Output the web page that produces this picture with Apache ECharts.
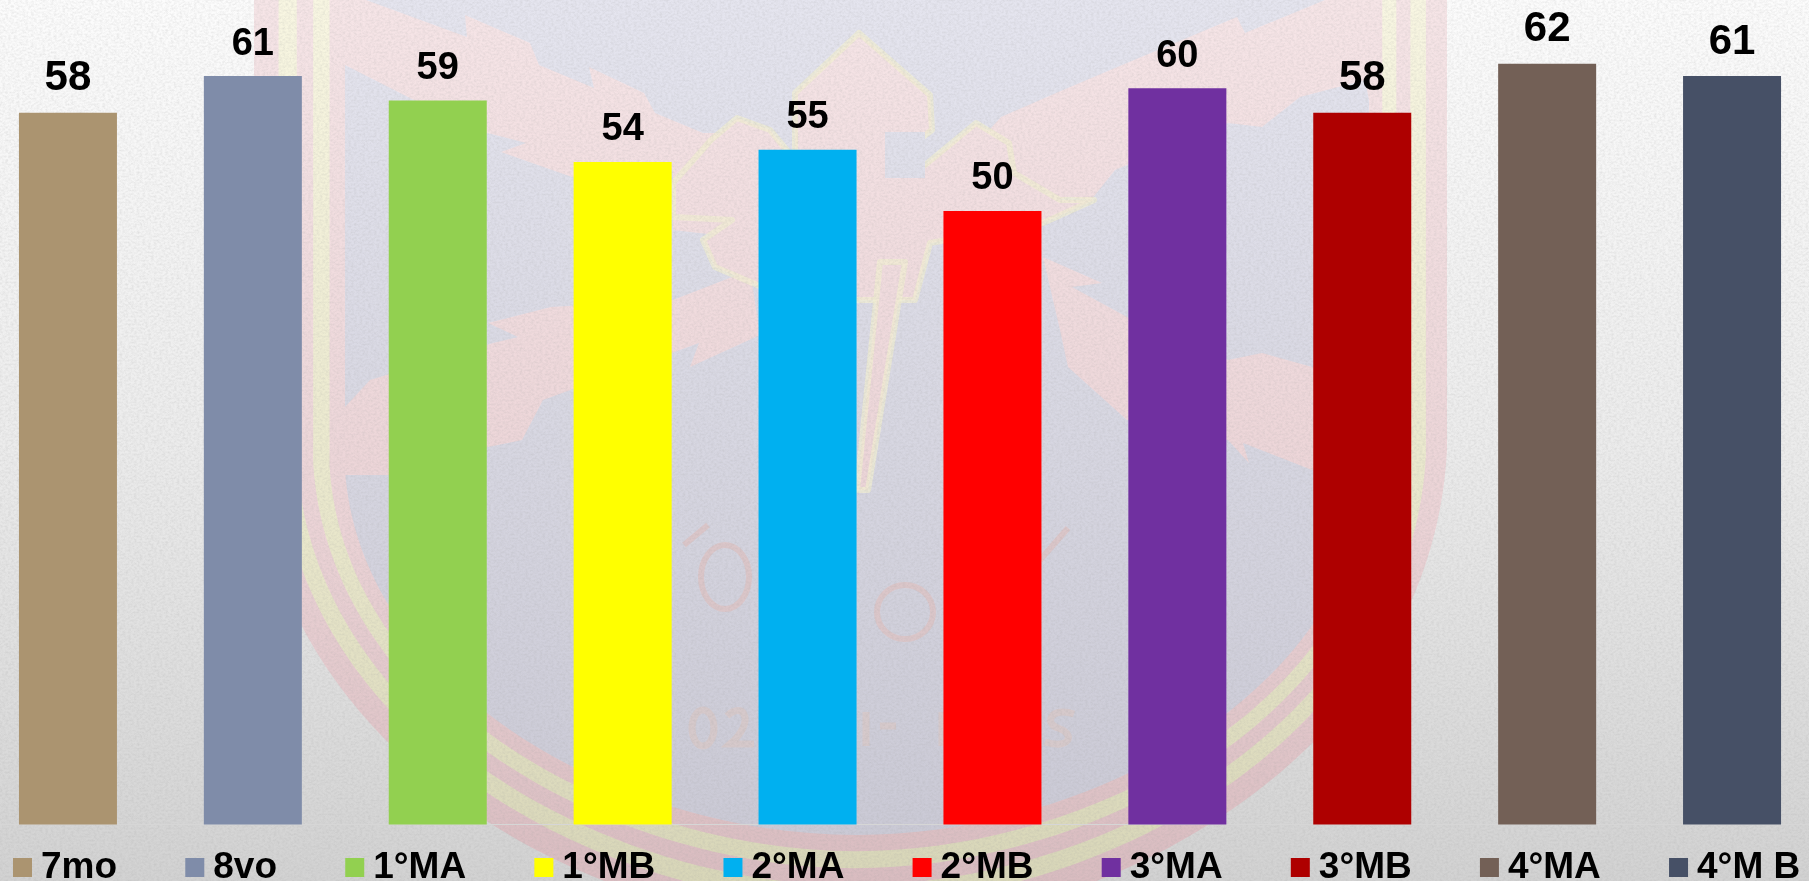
<!DOCTYPE html>
<html>
<head>
<meta charset="utf-8">
<style>
html,body{margin:0;padding:0;width:1809px;height:881px;overflow:hidden;background:#e8e8e8}
#bg,#chart{position:absolute;left:0;top:0;width:1809px;height:881px}
</style>
<script src="https://cdn.jsdelivr.net/npm/echarts@6/dist/echarts.min.js"></script>
</head>
<body>
<svg id="bg" xmlns="http://www.w3.org/2000/svg" viewBox="0 0 1809 881">
  <defs>
    <linearGradient id="gPaper" x1="0" y1="0" x2="0" y2="1"><stop offset="0" stop-color="#fcfcfc"/><stop offset=".5" stop-color="#ececec"/><stop offset="1" stop-color="#d2d2d2"/></linearGradient>
    <linearGradient id="gPink" gradientUnits="userSpaceOnUse" x1="0" y1="0" x2="0" y2="881"><stop offset="0" stop-color="#f6e5e7"/><stop offset=".6" stop-color="#ebd3d6"/><stop offset="1" stop-color="#d9bcc0"/></linearGradient>
    <linearGradient id="gYellow" gradientUnits="userSpaceOnUse" x1="0" y1="0" x2="0" y2="881"><stop offset="0" stop-color="#f8f6e2"/><stop offset=".6" stop-color="#e9e7cb"/><stop offset="1" stop-color="#d8d6b8"/></linearGradient>
    <linearGradient id="gBlue" gradientUnits="userSpaceOnUse" x1="0" y1="0" x2="0" y2="881"><stop offset="0" stop-color="#e5e5ef"/><stop offset="1" stop-color="#c9c8d4"/></linearGradient>
    <filter id="grain" x="0" y="0" width="100%" height="100%">
      <feTurbulence type="fractalNoise" baseFrequency=".35 .5" numOctaves="3" seed="4"/>
      <feColorMatrix type="matrix" values="0 0 0 0 0.35  0 0 0 0 0.35  0 0 0 0 0.35  1.4 0 0 0 -0.5"/>
    </filter>
  </defs>
  <rect width="1809" height="881" fill="url(#gPaper)"/>
  <g id="shield"></g>
  <g fill="url(#gPink)" stroke="none">
    <path d="M366 0L467 37L465 15L530 43L539 65L594 88L589 67L644 93L655 113L703 133L716 133L760 175L760 240L673 230L673 170L572 177L501 152L526 143L476 130L408 97L345 65L345 0Z"/>
    <path d="M1369 0L1325 0L1245 33L1237 17L1115 68L1056 93L1001 117L980 140L960 230L1068 197L1091 200L1115 170L1228 123L1262 127L1300 97L1365 80L1369 100Z"/>
    <path d="M345 407L370 380L493 343L518 337L488 323L551 307L673 300L750 270L760 335L690 367L699 343L543 400L522 440L488 447L389 475L345 475Z"/>
    <path d="M1043 257L1102 283L1072 287L1127 317L1228 360L1262 353L1312 367L1369 385L1369 473L1312 470L1243 443L1249 463L1228 440L1127 420L1068 367L1060 330Z"/>
  </g>
  <g stroke="#f1eed2" stroke-opacity=".7" stroke-width="6" fill="url(#gPink)" stroke-linejoin="round">
    <path d="M859 33L930 95L932 130L905 150L925 165L976 123L1009 143L1014 173L1060 200L1094 200L1043 223L930 243L915 300L880 300L850 300L800 245L762 287L715 267L703 240L732 220L673 217L673 183L711 140L737 118L770 130L795 160L795 93Z"/>
    <path d="M905 262L868 490L857 490L880 262Z"/>
  </g>
  <path d="M885 132L925 132L925 178L885 178Z" fill="url(#gBlue)" stroke="none"/>
  <g fill="none" stroke="#dbc6c9" stroke-width="6">
    <ellipse cx="725" cy="577" rx="24" ry="32"/>
    <ellipse cx="905" cy="612" rx="28" ry="27"/>
    <path d="M684 545L708 525"/>
    <path d="M1040 560L1068 528"/>
  </g>
  <g fill="none" stroke="#d6c9cb" stroke-width="7">
    <ellipse cx="703" cy="728" rx="11" ry="18"/>
    <path d="M727 716C744 700 756 722 730 744L754 744"/>
    <path d="M866 712L866 746"/>
    <path d="M880 726L896 726"/>
    <path d="M942 712L942 746"/>
    <path d="M1074 714C1050 706 1044 724 1058 728C1076 734 1070 750 1045 742"/>
  </g>
  <rect width="1809" height="881" filter="url(#grain)" opacity=".28"/>
</svg>
<div id="chart"></div>
<script>
// Chart data
var categories = ['7mo', '8vo', '1°MA', '1°MB', '2°MA', '2°MB', '3°MA', '3°MB', '4°MA', '4°M B'];
var values = [58, 61, 59, 54, 55, 50, 60, 58, 62, 61];
var barColors = ['#AB9470', '#7F8CA9', '#92D050', '#FFFF00', '#00B0F0', '#FF0000', '#7030A0', '#AE0000', '#736056', '#465066'];
var labelSizes = [42, 38, 38, 38, 38, 38, 38, 42, 42, 42];

// Decorative crest in the paper background: concentric bands of the shield
(function () {
  var outer = {l: 254, r: 1447, y0: 450, c1y: 760, c1dx: 16, c2x: 250, bottom: 930};
  var inner = {l: 345, r: 1369, y0: 470, c1y: 690, c1dx: 15, c2x: 237, bottom: 835};
  var steps = [[0, 'gPink'], [.27, 'gYellow'], [.47, 'gPink'], [.65, 'gYellow'], [.83, 'gPink'], [1, 'gBlue']];
  function mix(a, b, t) { return a + (b - a) * t; }
  var html = '';
  steps.forEach(function (s) {
    var t = s[0], p = {};
    for (var k in outer) p[k] = mix(outer[k], inner[k], t);
    var cx = (p.l + p.r) / 2;
    html += '<path fill="url(#' + s[1] + ')" d="M' + p.l + ' -5L' + p.l + ' ' + p.y0 +
      'C' + (p.l + p.c1dx) + ' ' + p.c1y + ' ' + (cx - p.c2x) + ' ' + p.bottom + ' ' + cx + ' ' + p.bottom +
      'C' + (cx + p.c2x) + ' ' + p.bottom + ' ' + (p.r - p.c1dx) + ' ' + p.c1y + ' ' + p.r + ' ' + p.y0 +
      'L' + p.r + ' -5Z"/>';
  });
  document.getElementById('shield').innerHTML = html;
})();

var chart = echarts.init(document.getElementById('chart'), null, {width: 1809, height: 881});
var fontFamily = '"Liberation Sans", Arial, sans-serif';

chart.setOption({
  backgroundColor: 'transparent',
  animation: false,
  legend: {
    show: true,
    left: 13,
    top: 849,
    padding: 0,
    itemWidth: 19,
    itemHeight: 19,
    itemGap: 68.2,
    icon: 'rect',
    selectedMode: false,
    data: categories,
    textStyle: {color: '#000', fontSize: 37, fontWeight: 'bold', fontFamily: fontFamily, padding: [0, 0, 0, 4]}
  },
  grid: {left: -24.5, right: -15.5, top: 2.4, bottom: 56.5, containLabel: false, outerBoundsMode: 'none'},
  xAxis: {
    type: 'category',
    data: categories,
    axisTick: {show: false},
    axisLabel: {show: false},
    axisLine: {show: true, lineStyle: {color: '#d6d6d6', width: 1}}
  },
  yAxis: {type: 'value', min: 0, max: 67, show: false, splitLine: {show: false}},
  series: categories.map(function (name, i) {
    return {
      name: name,
      type: 'bar',
      stack: 'all',
      barWidth: 98,
      silent: true,
      itemStyle: {color: barColors[i]},
      label: {
        show: true,
        position: 'top',
        distance: 13,
        color: '#000',
        fontSize: labelSizes[i],
        fontWeight: 'bold',
        fontFamily: fontFamily
      },
      data: categories.map(function (c, j) { return j === i ? values[i] : null; })
    };
  })
});
</script>
</body>
</html>
